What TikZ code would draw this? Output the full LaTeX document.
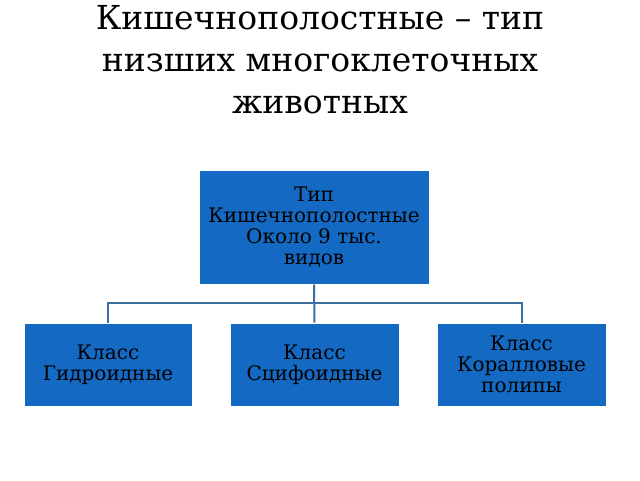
\documentclass[tikz,border=0pt]{standalone}
\usepackage{fontspec}
\setmainfont{DejaVu Serif}
\begin{document}
\begin{tikzpicture}[x=1pt,y=-1pt,
  bx/.style={draw=white,line width=1pt,fill=boxblue,text=black,align=center,inner sep=0pt,font=\fontsize{20}{21}\selectfont},
  ln/.style={draw=lineblue,line width=2pt}]
\definecolor{boxblue}{HTML}{1469C2}
\definecolor{lineblue}{HTML}{3C6E9E}
\fill[white] (0,0) rectangle (640,480);
\useasboundingbox (0,0) rectangle (640,480);
\node[align=center,font=\fontsize{33}{42}\selectfont] (t) at (320,60) {Кишечнополостные -- тип\\низших многоклеточных\\животных};
\node[bx,minimum width=230,minimum height=114] (top) at (314,227) {Тип\\Кишечнополостные\\Около 9 тыс.\\видов};
\node[bx,minimum width=168,minimum height=83] (a) at (108,364.5) {Класс\\Гидроидные};
\node[bx,minimum width=169,minimum height=83] (b) at (314.5,364.5) {Класс\\Сцифоидные};
\node[bx,minimum width=169,minimum height=83] (c) at (521.5,364.5) {Класс\\Коралловые\\полипы};
\coordinate (j) at (314,303);
\draw[ln] (top.south) -- (b.north);
\draw[ln] (a.north) -- (a.north|-j) -- (c.north|-j) -- (c.north);
\end{tikzpicture}
\end{document}
